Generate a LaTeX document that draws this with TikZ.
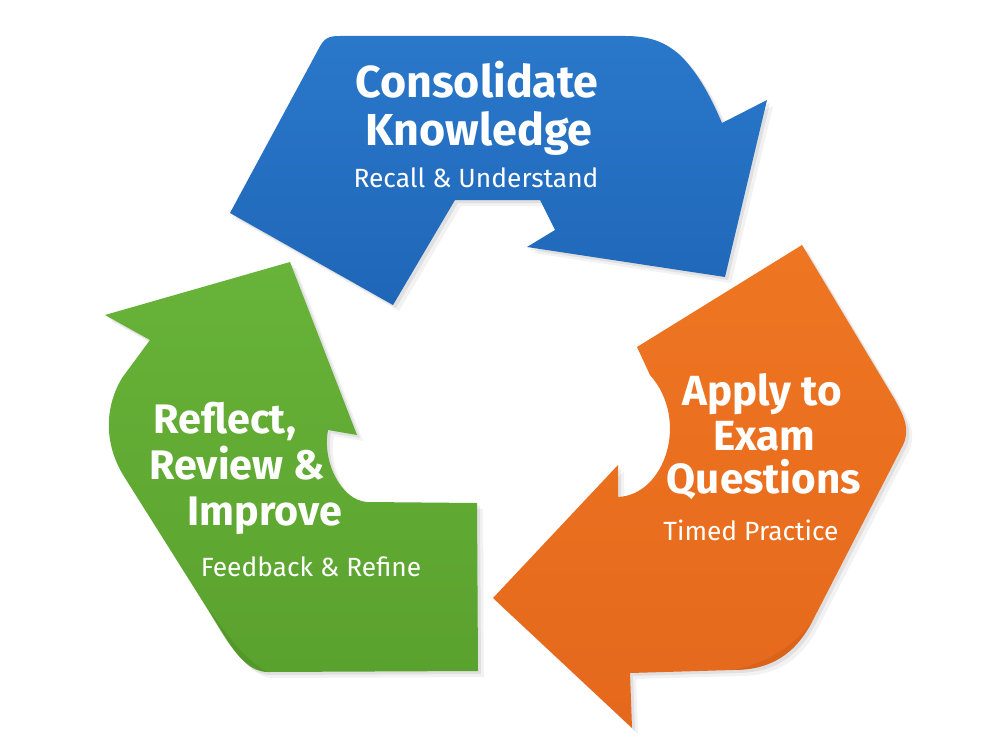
\documentclass[tikz,border=0pt]{standalone}
\usepackage{fontspec}
\setmainfont{Fira Sans}
\begin{document}
\begin{tikzpicture}[x=0.02cm,y=-0.02cm,
  bluearrow/.style={top color=blueTop, bottom color=blueBot},
  greenarrow/.style={top color=greenTop, bottom color=greenBot},
  orangearrow/.style={top color=orangeTop, bottom color=orangeBot},
  title/.style={text=white, anchor=base, inner sep=0pt, font=\bfseries\fontsize{24}{24}\selectfont},
  bigtitle/.style={title, font=\bfseries\fontsize{25.5}{26}\selectfont},
  gtitle/.style={title, font=\bfseries\fontsize{23.5}{24}\selectfont},
  subtitle/.style={text=white, anchor=base, inner sep=0pt, font=\fontsize{15}{16}\selectfont}]
\definecolor{blueTop}{HTML}{2A78CA}
\definecolor{blueBot}{HTML}{1F66B8}
\definecolor{greenTop}{HTML}{68B339}
\definecolor{greenBot}{HTML}{5AA22E}
\definecolor{orangeTop}{HTML}{EE7622}
\definecolor{orangeBot}{HTML}{E5681C}
\useasboundingbox[fill=white] (0,0) rectangle (1000,750);

% ---------- shadows ----------
\foreach \s/\o in {6/0.05,3/0.07}{
\path[fill=black, opacity=\o, shift={(\s,\s)}]
  (230,213) -- (318,50) .. controls (324,38) and (328,36) .. (340,36)
  -- (625,36) .. controls (650,36) and (665,42) .. (680,55)
  .. controls (700,75) and (712,100) .. (722,123)
  -- (767,100) -- (725,277) -- (527,247) -- (555,230) -- (540,200)
  -- (455,200) -- (393,305) -- cycle;
\path[fill=black, opacity=\o, shift={(\s,\s)}]
  (290,262) -- (357,435) -- (328,430)
  .. controls (322,460) and (340,500) .. (367,502)
  -- (477,503) -- (478,671) -- (268,672)
  .. controls (252,672) and (240,660) .. (227,640)
  -- (125,478) .. controls (105,447) and (103,410) .. (122,378)
  -- (150,340) -- (105,315) -- cycle;
\path[fill=black, opacity=\o, shift={(\s,\s)}]
  (802,245) -- (895,400) .. controls (905,418) and (910,430) .. (903,445)
  -- (813,620) .. controls (795,655) and (770,670) .. (733,670)
  -- (630,673) -- (632,728) -- (493,598) -- (618,465) -- (618,497)
  .. controls (665,495) and (690,420) .. (650,375)
  -- (637,347) -- cycle;
}

% ---------- blue arrow ----------
\path[bluearrow]
  (230,213) -- (318,50) .. controls (324,38) and (328,36) .. (340,36)
  -- (625,36) .. controls (650,36) and (665,42) .. (680,55)
  .. controls (700,75) and (712,100) .. (722,123)
  -- (767,100) -- (725,277) -- (527,247) -- (555,230) -- (540,200)
  -- (455,200) -- (393,305) -- cycle;

% ---------- green arrow ----------
\path[greenarrow]
  (290,262) -- (357,435) -- (328,430)
  .. controls (322,460) and (340,500) .. (367,502)
  -- (477,503) -- (478,671) -- (268,672)
  .. controls (252,672) and (240,660) .. (227,640)
  -- (125,478) .. controls (105,447) and (103,410) .. (122,378)
  -- (150,340) -- (105,315) -- cycle;
% curl shading at green corner
\path[fill=greenBot!80!black, opacity=0.35]
  (207,607) .. controls (222,635) and (240,668) .. (268,672)
  .. controls (248,662) and (230,640) .. (207,607) -- cycle;

% ---------- orange arrow ----------
\path[orangearrow]
  (802,245) -- (895,400) .. controls (905,418) and (910,430) .. (903,445)
  -- (813,620) .. controls (795,655) and (770,670) .. (733,670)
  -- (630,673) -- (632,728) -- (493,598) -- (618,465) -- (618,497)
  .. controls (665,495) and (690,420) .. (650,375)
  -- (637,347) -- cycle;
% curl shading at orange corner
\path[fill=orangeBot!85!black, opacity=0.35]
  (813,620) .. controls (795,655) and (770,670) .. (733,670)
  .. controls (770,662) and (795,645) .. (813,620) -- cycle;

% ---------- texts ----------
\node[bigtitle] (c1) at (477,97) {Consolidate};
\node[bigtitle] (c2) at (479,145) {Knowledge};
\node[subtitle] (c3) at (476,187) {Recall \& Understand};

\node[gtitle] (r1) at (225,433) {Reflect,};
\node[gtitle] (r2) at (237,479) {Review \&};
\node[gtitle] (r3) at (265,525) {Improve};
\node[subtitle] (r4) at (311,576) {Feedback \& Refine};

\node[title] (a1) at (762,405) {Apply to};
\node[title] (a2) at (764,450) {Exam};
\node[title] (a3) at (764,493) {Questions};
\node[subtitle] (a4) at (751,540) {Timed Practice};
\end{tikzpicture}
\end{document}
